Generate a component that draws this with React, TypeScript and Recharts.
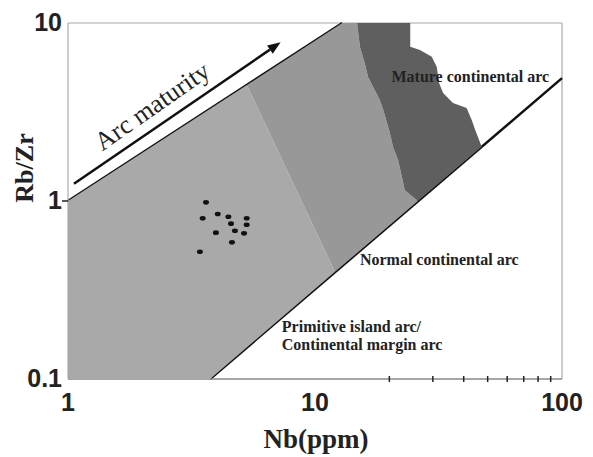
import React from "react";
import { ScatterChart, Scatter, XAxis, YAxis, ReferenceLine, ReferenceDot, Label } from "recharts";

const xTicks = [1, 10, 20, 30, 40, 50, 60, 70, 80, 90, 100];
const xMajor = [1, 10, 100];
const yTicks = [0.1, 1, 10];

// field boundaries (Nb, Rb/Zr)
const upperLine = [{ x: 1, y: 1 }, { x: 12.9, y: 10 }];
const lowerLine = [{ x: 3.76, y: 0.1 }, { x: 100, y: 4.9 }];
const arrowLine = [{ x: 1.057, y: 1.25 }, { x: 7.26, y: 7.79 }];

const lightZone = [
  { x: 1, y: 0.1 },
  { x: 1, y: 1 },
  { x: 5.3, y: 4.48 },
  { x: 12.05, y: 0.4 },
  { x: 3.76, y: 0.1 },
];

const darkLeftEdge = [
  { x: 14.8, y: 10 },
  { x: 15.2, y: 7.36 },
  { x: 15.9, y: 5.96 },
  { x: 16.4, y: 4.97 },
  { x: 17.2, y: 4.37 },
  { x: 18.3, y: 3.69 },
  { x: 18.9, y: 3.25 },
  { x: 20.1, y: 2.41 },
  { x: 20.7, y: 2.01 },
  { x: 21.7, y: 1.7 },
  { x: 22.5, y: 1.36 },
  { x: 23.1, y: 1.15 },
  { x: 26.1, y: 1.0 },
];

const darkRightEdge = [
  { x: 47.3, y: 2.02 },
  { x: 44.5, y: 2.51 },
  { x: 43.1, y: 2.85 },
  { x: 41.1, y: 3.33 },
  { x: 36.2, y: 3.55 },
  { x: 33.0, y: 4.04 },
  { x: 31.8, y: 4.6 },
  { x: 31.1, y: 5.68 },
  { x: 29.7, y: 6.47 },
  { x: 26.6, y: 7.05 },
  { x: 24.3, y: 7.36 },
  { x: 24.3, y: 10 },
];

const mediumZone = [{ x: 5.3, y: 4.48 }, { x: 12.9, y: 10 }, ...darkLeftEdge, { x: 12.05, y: 0.4 }];
const darkZone = [...darkLeftEdge, ...darkRightEdge];

const samples = [
  { x: 3.62, y: 0.983 },
  { x: 4.04, y: 0.845 },
  { x: 3.51, y: 0.8 },
  { x: 4.46, y: 0.816 },
  { x: 5.29, y: 0.8 },
  { x: 4.57, y: 0.746 },
  { x: 5.29, y: 0.736 },
  { x: 3.97, y: 0.664 },
  { x: 4.74, y: 0.681 },
  { x: 5.16, y: 0.658 },
  { x: 4.61, y: 0.586 },
  { x: 3.42, y: 0.519 },
];

const fieldLabels = [
  { x: 20.4, y: 4.68, text: "Mature continental arc" },
  { x: 15.2, y: 0.437, text: "Normal continental arc" },
  { x: 7.34, y: 0.1844, text: "Primitive island arc/" },
  { x: 7.34, y: 0.1455, text: "Continental margin arc" },
];

const serif = "'Liberation Serif', 'Times New Roman', serif";
const sans = "'Liberation Sans', Arial, sans-serif";

const polygon = (fill: string) => (props: any) => (
  <path
    d={props.points.map((p: any, i: number) => `${i ? "L" : "M"}${p.x},${p.y}`).join(" ") + " Z"}
    fill={fill}
    stroke="none"
  />
);

const XTick = ({ x, y, payload }: any) => {
  if (xMajor.includes(payload.value)) {
    return (
      <text x={x} y={y + 32} textAnchor="middle" fontFamily={sans} fontWeight="bold" fontSize={25} fill="#222">
        {payload.value}
      </text>
    );
  }
  return <line x1={x} x2={x} y1={y - 3} y2={y + 3} stroke="#222" strokeWidth={1.5} />;
};

const YTick = ({ x, y, payload }: any) => (
  <g>
    {payload.value === 1 && <line x1={x - 6} x2={x} y1={y} y2={y} stroke="#222" strokeWidth={1.5} />}
    <text x={x - 6} y={y + 8} textAnchor="end" fontFamily={sans} fontWeight="bold" fontSize={25} fill="#222">
      {payload.value}
    </text>
  </g>
);

const ArrowShape = (props: any) => {
  const { x1, y1, x2, y2 } = props;
  const a = Math.atan2(y2 - y1, x2 - x1);
  const len = 13;
  const w = 5;
  const bx = x2 - len * Math.cos(a);
  const by = y2 - len * Math.sin(a);
  const px = -Math.sin(a) * w;
  const py = Math.cos(a) * w;
  return (
    <g>
      <line x1={x1} y1={y1} x2={bx} y2={by} stroke="#111" strokeWidth={2.5} />
      <polygon points={`${x2},${y2} ${bx + px},${by + py} ${bx - px},${by - py}`} fill="#111" />
    </g>
  );
};

const App = () => (
  <div style={{ position: "absolute", left: 0, top: 0, background: "#fff" }}>
    <ScatterChart width={593} height={457} margin={{ top: 23, right: 31, bottom: 0, left: 0 }}>
      <XAxis
        dataKey="x"
        type="number"
        scale="log"
        domain={[1, 100]}
        ticks={xTicks}
        interval={0}
        allowDataOverflow
        height={78}
        tickSize={0}
        tickMargin={0}
        tickLine={false}
        tick={<XTick />}
        axisLine={{ stroke: "#888", strokeWidth: 1.5 }}
      >
        <Label
          content={() => (
            <text x={316} y={448} textAnchor="middle" fontFamily={serif} fontWeight="bold" fontSize={27} fill="#222">
              Nb(ppm)
            </text>
          )}
        />
      </XAxis>
      <YAxis
        dataKey="y"
        type="number"
        scale="log"
        domain={[0.1, 10]}
        ticks={yTicks}
        interval={0}
        allowDataOverflow
        width={68}
        tickSize={0}
        tickMargin={0}
        tickLine={false}
        tick={<YTick />}
        axisLine={{ stroke: "#aaa", strokeWidth: 1.2 }}
      >
        <Label
          content={() => (
            <text
              x={24}
              y={168}
              transform="rotate(-90 24 168)"
              textAnchor="middle"
              dominantBaseline="central"
              fontFamily={serif}
              fontWeight="bold"
              fontSize={26}
              fill="#222"
            >
              Rb/Zr
            </text>
          )}
        />
      </YAxis>

      <Scatter data={lightZone} shape={() => <g />} line={polygon("#a9a9a9")} lineType="joint" isAnimationActive={false} />
      <Scatter data={mediumZone} shape={() => <g />} line={polygon("#989898")} lineType="joint" isAnimationActive={false} />
      <Scatter data={darkZone} shape={() => <g />} line={polygon("#5f5f5f")} lineType="joint" isAnimationActive={false} />
      <Scatter
        data={samples}
        shape={(p: any) => <ellipse cx={p.cx} cy={p.cy} rx={3} ry={2.3} fill="#111" />}
        isAnimationActive={false}
      />

      <ReferenceLine y={10} stroke="#aaa" strokeWidth={1.2} ifOverflow="visible" />
      <ReferenceLine x={100} stroke="#aaa" strokeWidth={1.2} ifOverflow="visible" />
      <ReferenceLine segment={upperLine} stroke="#111" strokeWidth={2.5} ifOverflow="visible" />
      <ReferenceLine segment={lowerLine} stroke="#111" strokeWidth={2.5} ifOverflow="visible" />
      <ReferenceLine segment={arrowLine} ifOverflow="visible" shape={ArrowShape} />

      <ReferenceDot
        x={2.29}
        y={3.11}
        r={0}
        ifOverflow="visible"
        shape={(p: any) => (
          <text
            x={p.cx}
            y={p.cy}
            transform={`rotate(-35 ${p.cx} ${p.cy})`}
            textAnchor="middle"
            fontFamily={serif}
            fontSize={26}
            fill="#222"
          >
            Arc maturity
          </text>
        )}
      />
      {fieldLabels.map((l) => (
        <ReferenceDot
          key={l.text}
          x={l.x}
          y={l.y}
          r={0}
          ifOverflow="visible"
          shape={(p: any) => (
            <text x={p.cx} y={p.cy} fontFamily={serif} fontWeight="bold" fontSize={16} fill="#222">
              {l.text}
            </text>
          )}
        />
      ))}
    </ScatterChart>
  </div>
);

export default App;
